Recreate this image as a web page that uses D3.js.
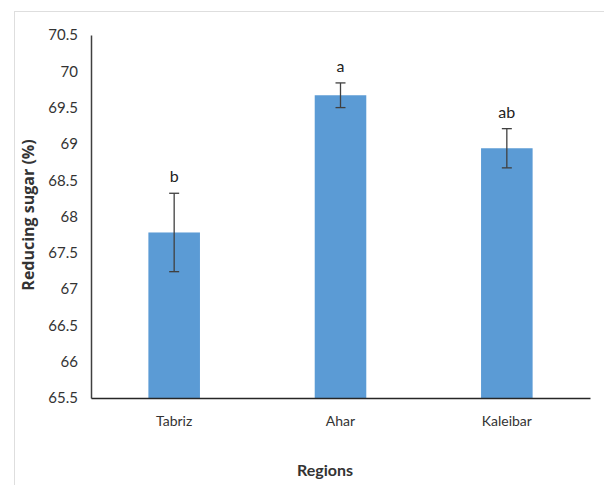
<!DOCTYPE html>
<html>
<head>
<meta charset="utf-8">
<script src="https://cdn.jsdelivr.net/npm/d3@7"></script>
<style>
  body { margin: 0; background: #fff; }
  text { font-family: Lato, "Open Sans", sans-serif; }
</style>
</head>
<body>
<script>
// chart data
const regions = ["Tabriz", "Ahar", "Kaleibar"];
const sugarMeans = [67.78, 69.67, 68.94];
const sugarErrors = [0.54, 0.17, 0.27];
const groupLetters = ["b", "a", "ab"];
const yTicks = [65.5, 66, 66.5, 67, 67.5, 68, 68.5, 69, 69.5, 70, 70.5];

const width = 604, height = 485;
const margin = { left: 91, right: 14, top: 35, bottom: 87 };

const svg = d3.select("body").append("svg")
    .attr("width", width)
    .attr("height", height);

// outer chart frame
svg.append("rect")
    .attr("x", 14.5).attr("y", 11.5)
    .attr("width", 620).attr("height", 500)
    .attr("fill", "none")
    .attr("stroke", "#dedede");

const xScale = d3.scaleBand()
    .domain(regions)
    .range([margin.left, width - margin.right])
    .paddingInner(0.69)
    .paddingOuter(0.345);

const yScale = d3.scaleLinear()
    .domain([65.5, 70.5])
    .range([height - margin.bottom, margin.top]);

const data = regions.map((r, i) => ({
  region: r, mean: sugarMeans[i], err: sugarErrors[i], letter: groupLetters[i]
}));

// bars
svg.append("g")
    .selectAll("rect")
    .data(data)
    .enter()
    .append("rect")
    .attr("x", d => xScale(d.region))
    .attr("y", d => yScale(d.mean))
    .attr("width", xScale.bandwidth())
    .attr("height", d => yScale(65.5) - yScale(d.mean))
    .attr("fill", "#5b9bd5");

// error bars
const errG = svg.append("g")
    .attr("stroke", "#404040")
    .attr("stroke-width", 1.3);
data.forEach(d => {
  const cx = xScale(d.region) + xScale.bandwidth() / 2;
  const top = yScale(d.mean + d.err), bot = yScale(d.mean - d.err);
  errG.append("line").attr("x1", cx).attr("x2", cx).attr("y1", top).attr("y2", bot);
  errG.append("line").attr("x1", cx - 5).attr("x2", cx + 5).attr("y1", top).attr("y2", top);
  errG.append("line").attr("x1", cx - 5).attr("x2", cx + 5).attr("y1", bot).attr("y2", bot);
});

// significance letters
svg.append("g")
    .selectAll("text")
    .data(data)
    .enter()
    .append("text")
    .attr("x", d => xScale(d.region) + xScale.bandwidth() / 2)
    .attr("y", d => yScale(d.mean + d.err) - 11)
    .attr("text-anchor", "middle")
    .attr("font-size", 16)
    .attr("fill", "#222")
    .text(d => d.letter);

// Y axis
const yAxis = svg.append("g")
    .attr("transform", "translate(" + margin.left + ",0)")
    .call(d3.axisLeft(yScale).tickValues(yTicks).tickSize(0).tickPadding(13)
        .tickFormat(d3.format("")));
yAxis.select(".domain").attr("stroke", "#404040").attr("stroke-width", 1.5);
yAxis.selectAll("text").attr("font-size", 15).attr("fill", "#333")
    .style("font-family", "Lato, sans-serif");

// X axis
const xAxis = svg.append("g")
    .attr("transform", "translate(0," + yScale(65.5) + ")")
    .call(d3.axisBottom(xScale).tickSize(0).tickPadding(18));
xAxis.select(".domain").attr("stroke", "#262626").attr("stroke-width", 1.5);
xAxis.selectAll("text").attr("font-size", 14).attr("fill", "#333")
    .style("font-family", "Lato, sans-serif");

// axis titles
svg.append("text")
    .attr("transform", "translate(34," + 215 + ") rotate(-90)")
    .attr("text-anchor", "middle")
    .attr("font-size", 16)
    .attr("font-weight", "bold")
    .attr("fill", "#333")
    .style("font-family", "'Open Sans', sans-serif")
    .text("Reducing sugar (%)");

svg.append("text")
    .attr("x", 325)
    .attr("y", 476)
    .attr("text-anchor", "middle")
    .attr("font-size", 16)
    .attr("font-weight", "bold")
    .attr("fill", "#333")
    .text("Regions");
</script>
</body>
</html>
